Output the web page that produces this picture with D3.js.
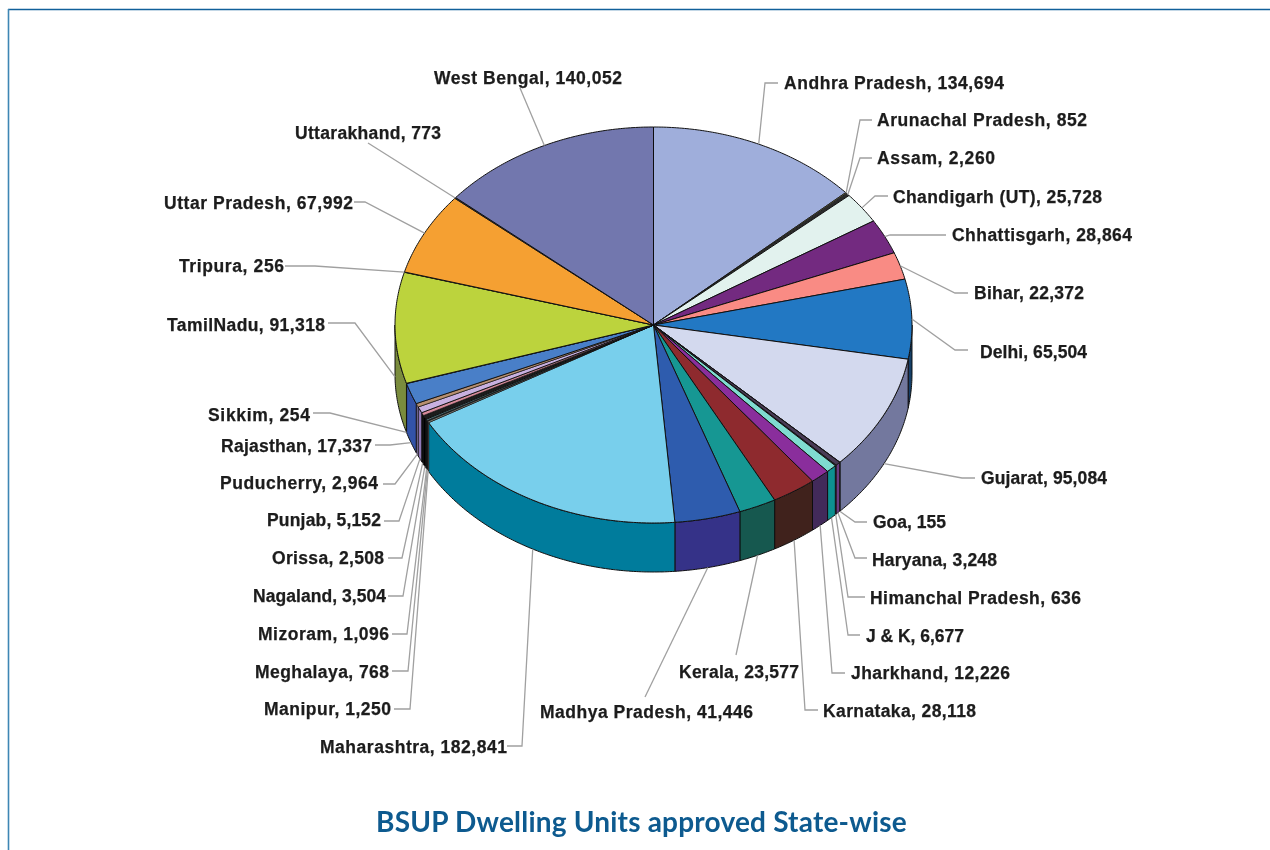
<!DOCTYPE html>
<html><head><meta charset="utf-8">
<style>html,body{margin:0;padding:0;background:#fff;overflow:hidden}svg{display:block}</style>
<script src="https://cdn.jsdelivr.net/npm/d3@7/dist/d3.min.js"></script>
</head><body><svg id="c" width="1270" height="850"></svg>
<script>
const states=["Andhra Pradesh","Arunachal Pradesh","Assam","Chandigarh (UT)","Chhattisgarh","Bihar","Delhi","Gujarat","Goa","Haryana","Himanchal Pradesh","J & K","Jharkhand","Karnataka","Kerala","Madhya Pradesh","Maharashtra","Manipur","Meghalaya","Mizoram","Nagaland","Orissa","Punjab","Puducherry","Rajasthan","Sikkim","TamilNadu","Tripura","Uttar Pradesh","Uttarakhand","West Bengal"];
const units=[134694,852,2260,25728,28864,22372,65504,95084,155,3248,636,6677,12226,28118,23577,41446,182841,1250,768,1096,3504,2508,5152,2964,17337,254,91318,256,67992,773,140052];
const topColors=["#9FAEDB","#6E6E50","#2B2B2B","#E2F2EE","#732A80","#F98B84","#2478C3","#D3D9EE","#3B2A4A","#4A3A55","#2B2B2B","#7FDCD0","#8A2F9C","#8E2C2E","#199793","#2F5CAE","#78CFEC","#8A8A80","#1A1A1A","#5F8F98","#1A1A1A","#D88A9A","#C8B0E0","#B89070","#4A7FC8","#333333","#BCD33E","#7A6A30","#F5A032","#3A3A3A","#7277AE"];
const wallColors=["#505880","#404030","#202020","#70807C","#3C1644","#804844","#133F68","#73789E","#6A3A80","#6A3A80","#6A3A80","#119090","#42295A","#3F241D","#155850","#363088","#007C9C","#7A7A78","#050505","#222222","#050505","#0A0A0A","#9078B8","#8070A0","#3252A8","#202020","#7A8C3E","#404020","#805020","#202020","#3C4068"];
// label layout: text anchor x, far edge x, centre y, side, elbow points
const labelX=[784,877,877,893,952,974,980,981,873,872,870,866,851,823,799,753,507,391,389,389,386,384,381,378,372,310,325,284,353,441,622];
const labelFarX=[1004,1087,995,1102,1132,1084,1087,1107,946,997,1081,964,1010,976,679,540,320,264,255,258,253,272,267,220,221,208,167,179,164,295,434];
const labelY=[83,120,158,197,235,293,352,478,522,560,598,636,673,711,672,712,747,709,672,634,596,558,520,483,446,415,325,266,203,133,78];
const labelSide=["start","start","start","start","start","start","start","start","start","start","start","start","start","start","end","end","end","end","end","end","end","end","end","end","end","end","end","end","end","end","end"];
const elbowX=[765,860,860,875,890,955,955,962,855,855,848,848,832,805,736,645,522,410,408,407,403,402,399,395,390,330,355,315,365,368,520];
const elbowY=[83,120,158,196,235,293,350,478,522,558,597,635,673,710,655,697,746,709,671,634,596,558,521,484,445,413,323,266,202,143,88];
const labelEndX=[778,872,872,888,946,968,968,975,867,867,865,860,845,818,736,645,507,394,392,392,388,388,384,383,375,313,328,285,354,368,520];
const labelEndY=[83,120,158,196,235,293,350,478,522,558,597,635,673,710,655,697,746,709,671,634,596,558,521,484,445,413,323,266,202,143,88];
const chartTitle="BSUP Dwelling Units approved State-wise";

const svg=d3.select("#c");
const defs=svg.append("defs");
defs.append("filter").attr("id","soft").append("feGaussianBlur").attr("stdDeviation",0.4);
defs.append("filter").attr("id","softer").append("feGaussianBlur").attr("stdDeviation",0.3);
const fmt=d3.format(",");
const px=d3.scaleLinear().domain([-1,1]).range([395,912]);
const py=d3.scaleLinear().domain([-1,1]).range([127,523]);
const depth=49;
const rim=(a)=>[px(Math.sin(a)),py(-Math.cos(a))];
const slices=d3.pie().sort(null).value(d=>d)(units);
const line=d3.line();

// frame
svg.append("line").attr("x1",8).attr("x2",1270).attr("y1",9.5).attr("y2",9.5).attr("stroke","#11609A").attr("stroke-width",1.4);
svg.append("line").attr("x1",8.5).attr("x2",8.5).attr("y1",9).attr("y2",850).attr("stroke","#3E86B4").attr("stroke-width",1.6);

function sample(a0,a1){const n=Math.max(2,Math.ceil((a1-a0)/0.01));return d3.range(n+1).map(i=>a0+(a1-a0)*i/n);}

const gChart=svg.append("g").attr("filter","url(#softer)");
// front walls
const gW=gChart.append("g");
slices.forEach((s,i)=>{
  const a0=Math.max(s.startAngle,Math.PI/2),a1=Math.min(s.endAngle,Math.PI*1.5);
  if(a1<=a0)return;
  const pts=sample(a0,a1);
  const top=pts.map(rim);
  const bot=pts.map(rim).map(p=>[p[0],p[1]+depth]).reverse();
  gW.append("path").attr("d",line(top.concat(bot))+"Z").attr("fill",wallColors[i]).attr("stroke","#111").attr("stroke-width",(s.endAngle-s.startAngle)<0.02?0.5:1).attr("stroke-linejoin","round");
});
// top
const gT=gChart.append("g");
slices.forEach((s,i)=>{
  const pts=[[px(0),py(0)]].concat(sample(s.startAngle,s.endAngle).map(rim));
  gT.append("path").attr("d",line(pts)+"Z").attr("fill",topColors[i]).attr("stroke","#111").attr("stroke-width",(s.endAngle-s.startAngle)<0.02?0.6:1).attr("stroke-linejoin","round");
});
// leaders
const gL=gChart.append("g").attr("fill","none").attr("stroke","#a0a0a0").attr("stroke-width",1.3);
slices.forEach((s,i)=>{
  const m=(s.startAngle+s.endAngle)/2;
  const p=rim(m);
  const start=[p[0],p[1]+(m>Math.PI/2&&m<Math.PI*1.5?depth:0)];
  gL.append("path").attr("d",line([start,[elbowX[i],elbowY[i]],[labelEndX[i],labelEndY[i]]]));
});
// labels
svg.append("g").attr("filter","url(#soft)").selectAll("text").data(states).join("text")
  .attr("x",(d,i)=>labelX[i]).attr("y",(d,i)=>labelY[i]).attr("text-anchor",(d,i)=>labelSide[i])
  .attr("dominant-baseline","central")
  .attr("font-family","'Liberation Sans',Arial,sans-serif").attr("font-weight","bold").attr("font-size",17.5)
  .attr("textLength",(d,i)=>Math.abs(labelFarX[i]-labelX[i])).attr("lengthAdjust","spacing")
  .attr("stroke","#1c1c1c").attr("stroke-width",0.25)
  .attr("fill","#1c1c1c").text((d,i)=>`${d}, ${fmt(units[i])}`);
svg.append("text").attr("filter","url(#softer)").attr("x",641.5).attr("y",821).attr("text-anchor","middle").attr("dominant-baseline","central")
  .attr("font-family","Lato,'Open Sans',sans-serif").attr("font-weight","bold").attr("font-size",28).attr("letter-spacing",0.2).attr("fill","#0B5A8F").text(chartTitle);
</script></body></html>
